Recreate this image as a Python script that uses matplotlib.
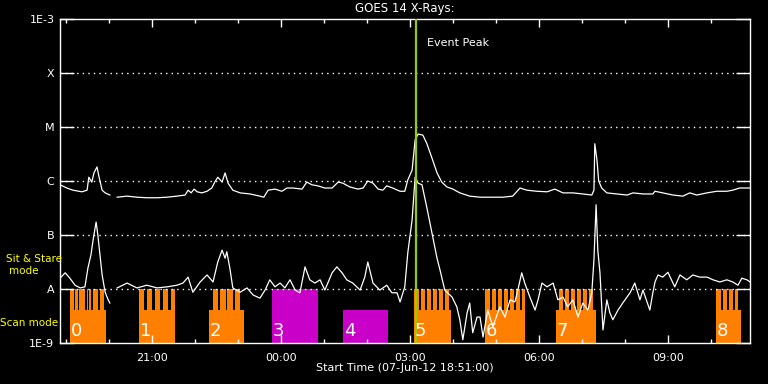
import numpy as np
import matplotlib
matplotlib.use("Agg")
import matplotlib.pyplot as plt

# hours after start (07-Jun-12 18:51), log10 flux (W/m^2)
t_long = [0.00, 0.16, 0.30, 0.51, 0.63, 0.67, 0.74, 0.79, 0.86, 0.91, 0.98, 1.05, 1.16, 1.25,
          1.33, 1.56, 1.79, 2.02, 2.26, 2.49, 2.72, 2.91, 2.98, 3.05, 3.12, 3.19, 3.30, 3.42,
          3.53, 3.60, 3.67, 3.77, 3.84, 3.91, 4.02, 4.19, 4.42, 4.65, 4.74, 4.84, 5.00, 5.16,
          5.28, 5.42, 5.63, 5.74, 5.86, 6.00, 6.16, 6.33, 6.47, 6.58, 6.74, 6.93, 7.05, 7.16,
          7.28, 7.40, 7.51, 7.60, 7.74, 7.91, 8.02, 8.09, 8.19, 8.26, 8.33, 8.44, 8.53, 8.65,
          8.77, 8.88, 9.00, 9.14, 9.30, 9.53, 9.77, 10.07, 10.30, 10.53, 10.70, 10.86, 11.09,
          11.33, 11.51, 11.70, 11.93, 12.16, 12.37, 12.42, 12.44, 12.49, 12.53, 12.60, 12.72,
          12.95, 13.19, 13.33, 13.56, 13.79, 13.84, 14.02, 14.26, 14.49, 14.65, 14.81, 15.05,
          15.28, 15.51, 15.65, 15.81, 16.05]
f_long = [-6.07, -6.13, -6.17, -6.20, -6.17, -5.93, -6.02, -5.85, -5.74, -5.93, -6.17, -6.22,
          -6.26, np.nan, -6.30, -6.28, -6.30, -6.31, -6.31, -6.30, -6.28, -6.26, -6.17, -6.22,
          -6.15, -6.20, -6.22, -6.19, -6.13, -6.02, -5.93, -6.02, -5.85, -6.04, -6.17, -6.22,
          -6.24, -6.28, -6.30, -6.17, -6.15, -6.19, -6.13, -6.13, -6.15, -6.02, -6.07, -6.09,
          -6.13, -6.13, -6.02, -6.04, -6.11, -6.15, -6.13, -6.00, -6.04, -6.15, -6.17, -6.09,
          -6.13, -6.19, -6.19, -5.98, -5.80, -5.24, -5.13, -5.15, -5.30, -5.57, -5.85, -6.02,
          -6.11, -6.15, -6.22, -6.28, -6.30, -6.30, -6.30, -6.28, -6.13, -6.17, -6.19, -6.20,
          -6.15, -6.22, -6.22, -6.24, -6.26, -6.17, -5.31, -5.61, -6.00, -6.13, -6.22, -6.24,
          -6.26, -6.22, -6.24, -6.24, -6.19, -6.22, -6.26, -6.28, -6.22, -6.26, -6.22, -6.19,
          -6.19, -6.17, -6.13, -6.13]

t_short = [0.00, 0.12, 0.23, 0.35, 0.47, 0.58, 0.65, 0.72, 0.77, 0.84, 0.88, 0.93, 0.98, 1.05,
           1.12, 1.16, 1.25, 1.33, 1.56, 1.79, 2.02, 2.26, 2.49, 2.72, 2.86, 2.98, 3.09, 3.26,
           3.42, 3.56, 3.67, 3.77, 3.84, 3.88, 3.95, 4.02, 4.19, 4.35, 4.49, 4.65, 4.77, 4.88,
           5.00, 5.12, 5.23, 5.35, 5.47, 5.58, 5.70, 5.81, 5.93, 6.05, 6.16, 6.33, 6.44, 6.56,
           6.67, 6.81, 6.98, 7.09, 7.16, 7.28, 7.44, 7.60, 7.72, 7.84, 7.91, 8.02, 8.09, 8.19,
           8.26, 8.33, 8.42, 8.53, 8.65, 8.77, 8.84, 8.95, 9.12, 9.23, 9.30, 9.37, 9.47, 9.53,
           9.60, 9.70, 9.77, 9.84, 9.95, 10.07, 10.23, 10.35, 10.47, 10.58, 10.65, 10.74, 10.81,
           10.93, 11.05, 11.12, 11.21, 11.33, 11.47, 11.58, 11.70, 11.81, 11.93, 12.05, 12.16,
           12.28, 12.37, 12.42, 12.47, 12.51, 12.56, 12.63, 12.72, 12.79, 12.86, 12.98, 13.09,
           13.26, 13.37, 13.49, 13.56, 13.72, 13.79, 13.84, 13.91, 14.02, 14.14, 14.30, 14.42,
           14.58, 14.72, 14.88, 15.05, 15.19, 15.35, 15.51, 15.65, 15.77, 15.86, 15.98, 16.05]
f_short = [-7.80, -7.70, -7.80, -7.93, -7.98, -7.96, -7.61, -7.37, -7.09, -6.76, -7.00, -7.37,
           -7.74, -8.06, -8.20, -8.26, np.nan, -7.98, -7.89, -7.98, -7.93, -7.98, -7.96, -7.93,
           -7.89, -7.78, -8.06, -7.87, -7.74, -7.87, -7.50, -7.28, -7.43, -7.31, -7.61, -7.98,
           -8.06, -7.98, -8.11, -8.17, -8.02, -7.83, -7.96, -7.89, -7.98, -7.83, -8.02, -8.07,
           -7.59, -7.83, -7.89, -7.83, -8.02, -7.70, -7.59, -7.70, -7.83, -7.89, -8.02, -7.78,
           -7.50, -7.89, -8.02, -7.93, -8.07, -8.07, -8.24, -7.96, -7.33, -6.72, -5.93, -6.04,
           -6.07, -6.48, -6.96, -7.43, -7.65, -8.02, -8.15, -8.33, -8.57, -8.94, -8.44, -8.26,
           -8.81, -8.52, -8.52, -8.89, -8.39, -8.70, -8.33, -8.52, -8.20, -8.24, -8.02, -7.70,
           -7.89, -8.15, -8.39, -8.20, -7.89, -7.96, -7.89, -8.20, -8.15, -8.33, -8.20, -8.52,
           -8.26, -8.39, -8.07, -7.46, -6.44, -7.28, -7.70, -8.76, -8.20, -8.44, -8.57, -8.39,
           -8.26, -8.07, -7.89, -8.20, -8.02, -8.39, -8.07, -7.87, -7.74, -7.78, -7.69, -7.96,
           -7.74, -7.83, -7.74, -7.78, -7.78, -7.83, -7.87, -7.83, -7.87, -7.93, -7.80, -7.83,
           -7.87]

# observation blocks: number, start, end, mode
blk_num = ['0', '1', '2', '3', '4', '5', '6', '7', '8']
blk_start = [0.23, 1.84, 3.47, 4.93, 6.58, 8.23, 9.88, 11.53, 15.26]
blk_end = [1.07, 2.67, 4.28, 6.00, 7.63, 9.09, 10.81, 12.47, 15.84]
blk_mode = ['scan', 'scan', 'scan', 'stare', 'stare', 'scan', 'scan', 'scan', 'scan']
blk_tall = [False, False, False, True, False, False, False, False, False]
# raster steps above the base of each scan block
blk_steps = [
    [(0.23, 0.33), (0.36, 0.42), (0.44, 0.58), (0.62, 0.65), (0.67, 0.73), (0.77, 0.88), (0.92, 1.02)],
    [(1.84, 1.95), (2.02, 2.14), (2.21, 2.33), (2.40, 2.51), (2.58, 2.67)],
    [(3.56, 3.67), (3.72, 3.85), (3.88, 4.02), (4.06, 4.19)],
    [],
    [],
    [(8.23, 8.35), (8.40, 8.49), (8.53, 8.63), (8.67, 8.77), (8.81, 8.91), (8.95, 9.05)],
    [(9.88, 10.00), (10.05, 10.14), (10.19, 10.28), (10.33, 10.42), (10.47, 10.56), (10.60, 10.70), (10.74, 10.81)],
    [(11.60, 11.70), (11.74, 11.84), (11.88, 11.98), (12.02, 12.12), (12.16, 12.26), (12.30, 12.40)],
    [(15.26, 15.37), (15.42, 15.51), (15.56, 15.65), (15.69, 15.77)],
]

event_peak = 8.28
levels = [1e-9, 1e-8, 1e-7, 1e-6, 1e-5, 1e-4, 1e-3]
level_names = ['1E-9', 'A', 'B', 'C', 'M', 'X', '1E-3']
hour_labels = ['21:00', '00:00', '03:00', '06:00', '09:00']
hour_pos = [2.15, 5.15, 8.15, 11.15, 14.15]

base_top = 10 ** -8.39
colors = {'scan': '#ff8000', 'stare': '#c800c8'}

plt.rcParams['font.family'] = ['DejaVu Sans']
fig = plt.figure(figsize=(7.68, 3.84), dpi=100, facecolor='black')
ax = fig.add_axes([60/768, 41/384, 690/768, 324/384], facecolor='black')
ax.set_yscale('log')
ax.set_xlim(0, 16.05)
ax.set_ylim(1e-9, 1e-3)

for i in range(len(blk_num)):
    c = colors[blk_mode[i]]
    top = 1e-8 if blk_tall[i] else base_top
    ax.fill_between([blk_start[i], blk_end[i]], 1e-9, top, color=c, lw=0, zorder=1)
    for a, b in blk_steps[i]:
        ax.fill_between([a, b], 1e-9, 1e-8, color=c, lw=0, zorder=1)
    ax.text(blk_start[i] + 0.02, 1.15e-9, blk_num[i], color='white', fontsize=13,
            ha='left', va='bottom', zorder=5)

for lv in levels[1:-1]:
    ax.axhline(lv, color='white', lw=1, ls=(0, (1, 3)), zorder=2)

ax.plot(t_long, 10 ** np.array(f_long), color='white', lw=0.9, zorder=3)
ax.plot(t_short, 10 ** np.array(f_short), color='white', lw=0.9, zorder=3)

ax.axvline(event_peak, color='#99cc00', lw=1.6, zorder=4)
ax.text(event_peak + 0.25, 10 ** -3.45, 'Event Peak', color='white', fontsize=8,
        ha='left', va='center')

ax.set_yticks(levels)
ax.set_yticklabels(level_names)
ax.yaxis.set_minor_locator(matplotlib.ticker.NullLocator())
ax.tick_params(axis='y', which='major', direction='in', length=10, width=1,
               colors='white', labelsize=8, left=True, right=True, pad=4)

ax.set_xticks(hour_pos)
ax.set_xticklabels(hour_labels)
ax.set_xticks(np.arange(0.15, 16.05, 1.0), minor=True)
ax.tick_params(axis='x', which='major', direction='in', length=6, width=1,
               colors='white', labelsize=8, top=True, bottom=True, pad=7)
ax.tick_params(axis='x', which='minor', direction='in', length=3, width=1,
               colors='white', top=True, bottom=True)
ax.set_xlabel('Start Time (07-Jun-12 18:51:00)', color='white', fontsize=8, labelpad=0)
ax.set_title('GOES 14 X-Rays:', color='white', fontsize=8.5, pad=5)

for s in ax.spines.values():
    s.set_color('white')
    s.set_linewidth(1)

fig.text(34/768, 1 - 259/384, 'Sit & Stare', color='yellow', fontsize=7.5, ha='center', va='center')
fig.text(24/768, 1 - 271/384, 'mode', color='yellow', fontsize=7.5, ha='center', va='center')
fig.text(29/768, 1 - 323/384, 'Scan mode', color='yellow', fontsize=7.5, ha='center', va='center')

fig.savefig('out.png', dpi=100, facecolor='black')
